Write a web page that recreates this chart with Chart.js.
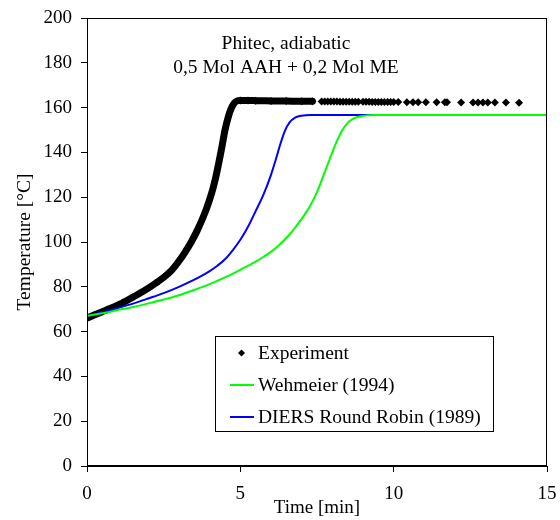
<!DOCTYPE html>
<html>
<head>
<meta charset="utf-8">
<script src="https://cdn.jsdelivr.net/npm/chart.js@4.4.1/dist/chart.umd.min.js"></script>
<style>
  body { margin: 0; background: #fff; }
  canvas { display: block; }
</style>
</head>
<body>
<canvas id="phitecChart" width="560" height="520"></canvas>
<script>
// experiment (min, degC) - dense part up to 7.35 min, then single points
const timeExp = [0, 0.25, 0.5, 0.75, 1.0, 1.25, 1.5, 1.75, 2.0, 2.25, 2.5, 2.75, 3.0, 3.2, 3.4, 3.6, 3.8, 3.9, 4.0, 4.1, 4.2, 4.3, 4.4, 4.5, 4.6, 4.7, 4.8, 4.9, 5.0, 5.25, 5.5, 6.0, 6.5, 7.0, 7.35,
  7.65, 7.75, 7.85, 7.95, 8.05, 8.15, 8.25, 8.35, 8.45, 8.55, 8.65, 8.75, 8.85,
  9.0, 9.1, 9.2, 9.3, 9.4, 9.5, 9.6, 9.7, 9.8, 9.9, 10.0, 10.15,
  10.43, 10.63, 10.8, 11.05, 11.4, 11.67, 11.74, 12.2, 12.59, 12.75, 12.91, 13.07, 13.3, 13.66, 14.09];
const tempExp = [66, 67.5, 68.9, 70.3, 71.8, 73.5, 75.4, 77.3, 79.4, 81.7, 84.2, 87.2, 91.5, 95.5, 100, 105.3, 111.5, 115, 119, 123.5, 129, 135.5, 142.5, 150, 155.5, 159.5, 162, 163, 163.2, 163.2, 163.1, 163.0, 162.9, 162.8, 162.8,
  162.7, 162.7, 162.7, 162.7, 162.7, 162.7, 162.6, 162.6, 162.6, 162.6, 162.6, 162.6, 162.6,
  162.6, 162.6, 162.6, 162.5, 162.5, 162.5, 162.5, 162.5, 162.5, 162.5, 162.5, 162.5,
  162.4, 162.4, 162.4, 162.4, 162.4, 162.4, 162.4, 162.3, 162.3, 162.3, 162.3, 162.3, 162.3, 162.3, 162.2];

const timeWeh = [0, 0.5, 1.0, 1.5, 2.0, 2.5, 3.0, 3.5, 4.0, 4.5, 5.0, 5.5, 5.75, 6.0, 6.25, 6.5, 6.75, 7.0, 7.25, 7.5, 7.65, 7.9, 8.1, 8.3, 8.5, 8.7, 9.0, 9.4, 10, 15];
const tempWeh = [67, 68.2, 69.6, 71, 72.6, 74.3, 76.2, 78.6, 81.2, 84.2, 87.6, 91.2, 93.3, 95.6, 98.4, 101.8, 105.8, 110.3, 115.5, 122.3, 127.5, 136.5, 143.5, 149.3, 153.2, 155.2, 156.3, 156.7, 156.7, 156.7];

const timeDiers = [0, 0.5, 1.0, 1.5, 2.0, 2.5, 3.0, 3.5, 3.75, 4.0, 4.25, 4.5, 4.75, 5.0, 5.25, 5.5, 5.75, 6.0, 6.15, 6.3, 6.45, 6.6, 6.8, 7.0, 7.3, 8, 15];
const tempDiers = [67, 68.6, 70.5, 72.5, 74.8, 77.2, 80, 83.2, 85.0, 87.0, 89.4, 92.3, 96.3, 101, 106.8, 113.8, 121, 130, 136.5, 143.5, 149.5, 153.3, 155.6, 156.4, 156.7, 156.7, 156.7];

const seriesNames = ['Experiment', 'Wehmeier (1994)', 'DIERS Round Robin (1989)'];
const titleLines = ['Phitec, adiabatic', '0,5 Mol AAH + 0,2 Mol ME'];

function toPoints(xs, ys) {
  return xs.map((x, i) => ({ x: x, y: ys[i] }));
}

const serif = 'Liberation Serif';
Chart.defaults.font.family = serif;
Chart.defaults.font.size = 19;
Chart.defaults.color = '#000';

// box round the plot, the two title lines and the framed legend
const extras = {
  id: 'extras',
  afterDraw(chart) {
    const ctx = chart.ctx;
    const a = chart.chartArea;
    ctx.save();
    ctx.strokeStyle = '#000';
    ctx.lineWidth = 1;
    ctx.strokeRect(Math.round(a.left) + 0.5, Math.round(a.top) + 0.5, Math.round(a.right - a.left) - 1, Math.round(a.bottom - a.top) - 1);

    ctx.fillStyle = '#000';
    ctx.font = '19.5px ' + serif;
    ctx.textAlign = 'center';
    ctx.textBaseline = 'middle';
    ctx.fillText(titleLines[0], 286, 44);
    ctx.fillText(titleLines[1], 286, 68);

    // legend
    ctx.fillStyle = '#fff';
    ctx.fillRect(215.5, 336.5, 278, 95);
    ctx.strokeRect(215.5, 336.5, 278, 95);
    ctx.textAlign = 'left';
    const rows = [353, 385, 417];
    ctx.fillStyle = '#000';
    ctx.beginPath();
    ctx.moveTo(241.5, rows[0] - 3.5);
    ctx.lineTo(245, rows[0]);
    ctx.lineTo(241.5, rows[0] + 3.5);
    ctx.lineTo(238, rows[0]);
    ctx.closePath();
    ctx.fill();
    const cols = ['#00ff00', '#0000ff'];
    for (let i = 1; i < 3; i++) {
      ctx.strokeStyle = cols[i - 1];
      ctx.lineWidth = 2;
      ctx.beginPath();
      ctx.moveTo(230, rows[i]);
      ctx.lineTo(254, rows[i]);
      ctx.stroke();
    }
    ctx.fillStyle = '#000';
    seriesNames.forEach((n, i) => ctx.fillText(n, 258, rows[i] + 1));
    ctx.restore();
  }
};

const ctx = document.getElementById('phitecChart').getContext('2d');
new Chart(ctx, {
  type: 'line',
  data: {
    datasets: [
      {
        label: seriesNames[1],
        data: toPoints(timeWeh, tempWeh),
        borderColor: '#00ff00',
        borderWidth: 2,
        pointRadius: 0,
        cubicInterpolationMode: 'monotone'
      },
      {
        label: seriesNames[2],
        data: toPoints(timeDiers, tempDiers),
        borderColor: '#0000ff',
        borderWidth: 2,
        pointRadius: 0,
        cubicInterpolationMode: 'monotone'
      },
      {
        label: seriesNames[0],
        data: toPoints(timeExp, tempExp),
        borderColor: '#000',
        backgroundColor: '#000',
        borderWidth: 7,
        borderCapStyle: 'round',
        cubicInterpolationMode: 'monotone',
        pointStyle: 'rectRot',
        pointRadius: c => (timeExp[c.dataIndex] < 4.95 ? 0 : 4),
        pointBorderWidth: 0,
        segment: {
          borderColor: c => (c.p0.parsed.x >= 7.3 ? 'transparent' : undefined)
        }
      }
    ]
  },
  options: {
    responsive: false,
    animation: false,
    devicePixelRatio: 1,
    layout: { padding: { left: 0, right: 13, top: 18, bottom: 0 } },
    plugins: {
      legend: { display: false },
      tooltip: { enabled: false }
    },
    scales: {
      x: {
        type: 'linear',
        min: 0,
        max: 15,
        ticks: { stepSize: 5, padding: 11 },
        grid: { drawOnChartArea: false, tickLength: 6, color: '#000' },
        border: { color: '#000' },
        title: { display: true, text: 'Time [min]', padding: { top: 0, bottom: 1 } },
        afterFit: s => { s.height = 54; s.paddingLeft = 0; s.paddingRight = 0; }
      },
      y: {
        min: 0,
        max: 200,
        ticks: { stepSize: 20, padding: 9 },
        grid: { drawOnChartArea: false, tickLength: 6, color: '#000' },
        border: { color: '#000' },
        title: { display: true, text: 'Temperature [°C]', font: { size: 19.5 }, padding: { top: 13, bottom: 0 } },
        afterFit: s => { s.width = 87; s.paddingTop = 0; s.paddingBottom = 0; }
      }
    }
  },
  plugins: [extras]
});
</script>
</body>
</html>
